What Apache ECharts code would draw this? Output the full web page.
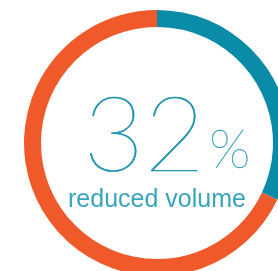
<!DOCTYPE html>
<html>
<head>
<meta charset="utf-8">
<script src="https://cdn.jsdelivr.net/npm/echarts@6/dist/echarts.min.js"></script>
<style>
  html, body { margin: 0; padding: 0; background: #fff; }
  #chart { width: 278px; height: 271px; }
</style>
</head>
<body>
<div id="chart"></div>
<script>
var categories = ['reduced', 'remaining'];
var values = [32, 68];
var bigLabel = '32';
var unitLabel = '%';
var subLabel = 'reduced volume';

var myChart = echarts.init(document.getElementById('chart'));

var option = {
    animation: false,
    graphic: [
        {
            type: 'text', left: 83, top: 84,
            style: {
                text: bigLabel, fontSize: 105, fontWeight: 100, fontFamily: 'Lato',
                fill: '#1a91ad', stroke: '#1a91ad', lineWidth: 0.6
            }
        },
        {
            type: 'text', left: 209, top: 123,
            style: {
                text: unitLabel, fontSize: 54, fontWeight: 100, fontFamily: 'Lato',
                fill: '#3aa2bb', stroke: '#3aa2bb', lineWidth: 0.4
            }
        },
        {
            type: 'text', left: 68, top: 188,
            style: { text: subLabel, fontSize: 25, fontFamily: 'Liberation Sans', fill: '#3aa4bd' }
        }
    ],
    series: [
        {
            type: 'pie',
            center: [157, 143],
            radius: [116, 133],
            startAngle: 90,
            clockwise: true,
            silent: true,
            label: { show: false },
            labelLine: { show: false },
            data: categories.map(function (c, i) {
                return {
                    name: c,
                    value: values[i],
                    itemStyle: { color: i === 0 ? '#0a8ca8' : '#f05a2b' }
                };
            })
        }
    ]
};
myChart.setOption(option);
</script>
</body>
</html>
